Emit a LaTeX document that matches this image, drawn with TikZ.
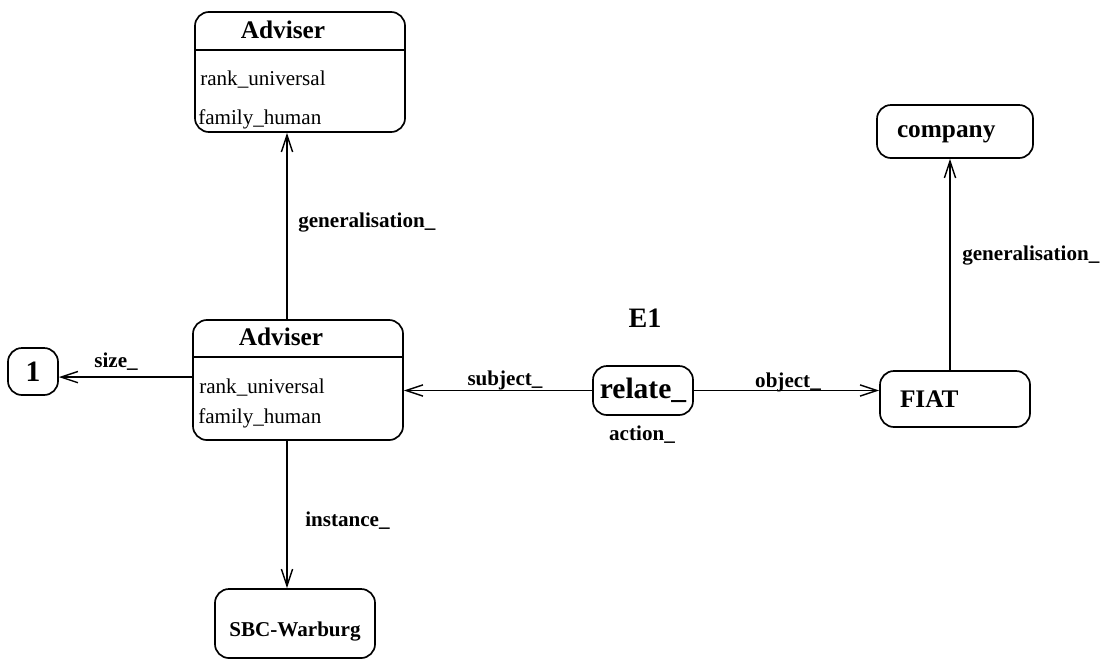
\documentclass[tikz,border=0pt]{standalone}
\usepackage{fontspec}
\usepackage{tikz}
\setmainfont{Liberation Serif}
\usetikzlibrary{arrows.meta}

\tikzset{
  box/.style={draw, line width=1.2pt, rounded corners=0.35cm, inner sep=0pt},
  rel/.style={line width=1pt, -{Straight Barb[length=12pt,width=8pt,line width=1pt]}},
  lab/.style={font=\bfseries\fontsize{15}{18}\selectfont, inner sep=0pt},
  attr/.style={font=\fontsize{15}{18}\selectfont, anchor=west, inner sep=0pt},
  title/.style={font=\bfseries\fontsize{18}{21}\selectfont, inner sep=0pt}
}

\begin{document}
\begin{tikzpicture}[x=0.025cm, y=-0.025cm]
    \useasboundingbox (0, 0) rectangle (1108, 660);

    % the two Adviser frames
    \node [box, minimum width=5.25cm, minimum height=3cm] (advtop) at (300, 72) {};
    \node [title] (advtoptitle) at (283, 30) {Adviser};
    \draw [line width=1.2pt] (advtop.west |- 0, 50) -- (advtop.east |- 0, 50);
    \node [attr] (advtoprank) at (200, 80) {rank\_universal};
    \node [attr] (advtopfam) at (198, 119) {family\_human};

    \node [box, minimum width=5.25cm, minimum height=3cm] (adv) at (298, 380) {};
    \node [title] (advtitle) at (281, 337) {Adviser};
    \draw [line width=1.2pt] (adv.west |- 0, 357) -- (adv.east |- 0, 357);
    \node [attr] (advrank) at (199, 388) {rank\_universal};
    \node [attr] (advfam) at (198, 418) {family\_human};

    % other frames
    \node [box, minimum width=1.25cm, minimum height=1.175cm, font=\bfseries\fontsize{21}{24}\selectfont] (one) at (33, 371.5) {1};
    \node [box, minimum width=4cm, minimum height=1.725cm, font=\bfseries\fontsize{15}{18}\selectfont] (sbc) at (295, 623.5) {\raisebox{-9pt}[0pt][0pt]{SBC-Warburg}};
    \node [box, minimum width=2.5cm, minimum height=1.225cm, font=\bfseries\fontsize{21}{24}\selectfont] (relate) at (643, 390.5) {relate\_};
    \node [box, minimum height=1.4cm, text width=2.75cm, inner xsep=0.5cm, align=left, font=\bfseries\fontsize{18}{21}\selectfont] (fiat) at (955, 399) {FIAT};
    \node [box, minimum height=1.325cm, text width=2.9cm, inner xsep=0.5cm, align=left, text depth=0pt, font=\bfseries\fontsize{18}{21}\selectfont] (company) at (955, 131.5) {company};

    \node [font=\bfseries\fontsize{20}{24}\selectfont, inner sep=0pt] (eone) at (645, 318) {E1};

    % links
    \coordinate (spine) at (287, 0);
    \coordinate (spinefiat) at (950, 0);
    \path ([yshift=-0.14cm]one.east) coordinate (sizeend);

    \draw [rel] (adv.north -| spine) -- (advtop.south -| spine);
    \draw [rel] (adv.south -| spine) -- (sbc.north -| spine);
    \draw [rel] (adv.west |- sizeend) -- (sizeend);
    \draw [rel] (relate.west) -- (relate.west -| adv.east);
    \draw [rel] (relate.east) -- (relate.east -| fiat.west);
    \draw [rel] (fiat.north -| spinefiat) -- (company.south -| spinefiat);

    \node [lab, anchor=west] (genadv) at (298, 222) {generalisation\_};
    \node [lab, anchor=west] (inst) at (305, 521) {instance\_};
    \node [lab] (size) at (116, 362) {size\_};
    \node [lab] (subj) at (505, 380) {subject\_};
    \node [lab] (obj) at (788, 382) {object\_};
    \node [lab] (act) at (642, 435) {action\_};
    \node [lab, anchor=west] (genfiat) at (962, 255) {generalisation\_};
\end{tikzpicture}
\end{document}
